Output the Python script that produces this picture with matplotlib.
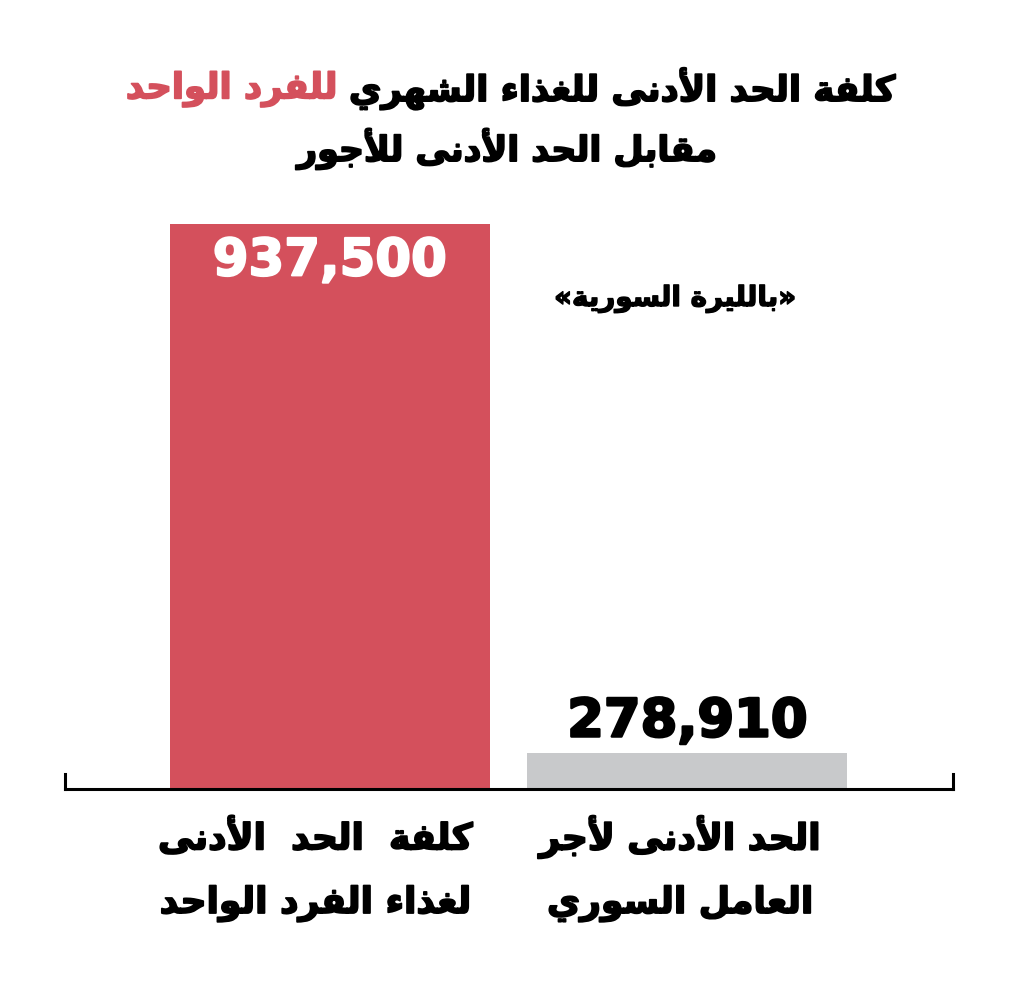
import matplotlib
matplotlib.use("Agg")
import matplotlib.pyplot as plt
import matplotlib.patheffects as pe
from matplotlib.transforms import blended_transform_factory

# ---- data ----
categories = ["كلفة  الحد  الأدنى\nلغذاء الفرد الواحد", "الحد الأدنى لأجر\nالعامل السوري"]
values = [937500, 278910]
# heights as drawn in the source graphic (the wage bar is not to scale there)
drawn_heights = [937500, 60000]
bar_colors = ["#d4505c", "#c8c9cb"]
value_colors = ["white", "black"]
title_black = "كلفة الحد الأدنى للغذاء الشهري"
title_red = "للفرد الواحد"
title_line2 = "مقابل الحد الأدنى للأجور"
unit_note = "بالليرة السورية"

RED = "#d4505c"
W, H = 1024, 1004

# ---- minimal Arabic shaping (presentation forms + visual order) ----
RIGHT = {'ء': (0xFE80, None), 'آ': (0xFE81, 0xFE82), 'أ': (0xFE83, 0xFE84),
         'ؤ': (0xFE85, 0xFE86), 'إ': (0xFE87, 0xFE88), 'ا': (0xFE8D, 0xFE8E),
         'ة': (0xFE93, 0xFE94), 'د': (0xFEA9, 0xFEAA), 'ذ': (0xFEAB, 0xFEAC),
         'ر': (0xFEAD, 0xFEAE), 'ز': (0xFEAF, 0xFEB0), 'و': (0xFEED, 0xFEEE),
         'ى': (0xFEEF, 0xFEF0)}
DUAL = {'ئ': 0xFE89, 'ب': 0xFE8F, 'ت': 0xFE95, 'ث': 0xFE99, 'ج': 0xFE9D,
        'ح': 0xFEA1, 'خ': 0xFEA5, 'س': 0xFEB1, 'ش': 0xFEB5, 'ص': 0xFEB9,
        'ض': 0xFEBD, 'ط': 0xFEC1, 'ظ': 0xFEC5, 'ع': 0xFEC9, 'غ': 0xFECD,
        'ف': 0xFED1, 'ق': 0xFED5, 'ك': 0xFED9, 'ل': 0xFEDD, 'م': 0xFEE1,
        'ن': 0xFEE5, 'ه': 0xFEE9, 'ي': 0xFEF1}
LAM_ALEF = {'آ': 0xFEF5, 'أ': 0xFEF7, 'إ': 0xFEF9, 'ا': 0xFEFB}


def shape(text):
    tokens = []
    i = 0
    while i < len(text):
        c = text[i]
        if c == 'ل' and i + 1 < len(text) and text[i + 1] in LAM_ALEF:
            tokens.append(("LA", text[i + 1]))
            i += 2
        else:
            tokens.append(("C", c))
            i += 1

    def joins_next(t):
        return t[0] == "C" and t[1] in DUAL

    def joins_prev(t):
        return t[0] == "LA" or t[1] in DUAL or (t[1] in RIGHT and RIGHT[t[1]][1] is not None)

    out = []
    for k, t in enumerate(tokens):
        prev = tokens[k - 1] if k > 0 else None
        nxt = tokens[k + 1] if k + 1 < len(tokens) else None
        p = prev is not None and joins_next(prev) and joins_prev(t)
        q = nxt is not None and joins_next(t) and joins_prev(nxt)
        if t[0] == "LA":
            out.append(chr(LAM_ALEF[t[1]] + (1 if p else 0)))
        elif t[1] in DUAL:
            base = DUAL[t[1]]
            out.append(chr(base + (3 if p and q else 1 if p else 2 if q else 0)))
        elif t[1] in RIGHT:
            iso, fin = RIGHT[t[1]]
            out.append(chr(fin if p and fin else iso))
        else:
            out.append(t[1])
    return "".join(out)[::-1]


def heavy(color, lw=1.3):
    # thicken DejaVu Bold a little towards the black weight of the source
    return [pe.withStroke(linewidth=lw, foreground=color)]


AR_FONT = ["DejaVu Sans"]
NUM_FONT = ["DejaVu Sans"]

fig = plt.figure(figsize=(W / 100, H / 100), dpi=100)
fig.patch.set_facecolor("white")

# axes placed so the baseline sits where the source draws it
ax_left, ax_right = 65, 953
ax_bottom, ax_top = 790, 225
ax = fig.add_axes([ax_left / W, 1 - ax_bottom / H,
                   (ax_right - ax_left) / W, (ax_bottom - ax_top) / H])

x = [0, 1]
ax.bar(x, drawn_heights, width=0.895, color=bar_colors, zorder=2)
ax.set_xlim(-0.741, 1.743)
ax.set_ylim(0, max(drawn_heights))

ax.spines["top"].set_visible(False)
for s in ["left", "right", "bottom"]:
    ax.spines[s].set_linewidth(2.2)
    ax.spines[s].set_color("black")
ax.spines["left"].set_bounds(0, 25000)
ax.spines["right"].set_bounds(0, 25000)
ax.set_xticks([])
ax.set_yticks([])
ax.patch.set_alpha(0)

# value labels
ax.text(x[0], drawn_heights[0] - 62000, f"{values[0]:,}", ha="center", va="center",
        color=value_colors[0], fontsize=37, fontweight="bold", family=NUM_FONT,
        path_effects=heavy(value_colors[0], 1.5))
ax.text(x[1], drawn_heights[1] + 52000, f"{values[1]:,}", ha="center", va="center",
        color=value_colors[1], fontsize=38, fontweight="bold", family=NUM_FONT,
        path_effects=heavy(value_colors[1], 1.8))

# category labels under the axis, one text per line
trans = blended_transform_factory(ax.transData, fig.transFigure)
line_y = [838, 905]
label_shift = [-0.04, -0.02]
for xi, dx, cat in zip(x, label_shift, categories):
    for ly, line in zip(line_y, cat.split("\n")):
        ax.text(xi + dx, 1 - ly / H, shape(line), transform=trans,
                ha="center", va="center", fontsize=26, fontweight="bold",
                family=AR_FONT, path_effects=heavy("black"))

# unit note
fig.text(675 / W, 1 - 300 / H, "«" + shape(unit_note) + "»", ha="center", va="center",
         fontsize=20, fontweight="bold", family=AR_FONT, path_effects=heavy("black", 1.0))

# title: red part on the left, black part on the right
t_black = fig.text(0, 1 - 90 / H, shape(title_black), ha="left", va="center",
                   fontsize=25.5, fontweight="bold", family=AR_FONT,
                   path_effects=heavy("black"))
t_red = fig.text(0, 1 - 90 / H, shape(title_red), ha="left", va="center",
                 fontsize=25.5, fontweight="bold", family=AR_FONT, color=RED,
                 path_effects=heavy(RED))
fig.canvas.draw()
r = fig.canvas.get_renderer()
wb = t_black.get_window_extent(r).width
wr = t_red.get_window_extent(r).width
gap = 12
start = (510 - (wb + wr + gap) / 2)
t_red.set_x(start / W)
t_black.set_x((start + wr + gap) / W)

fig.text(507 / W, 1 - 150 / H, shape(title_line2), ha="center", va="center",
         fontsize=25, fontweight="bold", family=AR_FONT, path_effects=heavy("black"))

fig.savefig("out.png", dpi=100, facecolor="white")
